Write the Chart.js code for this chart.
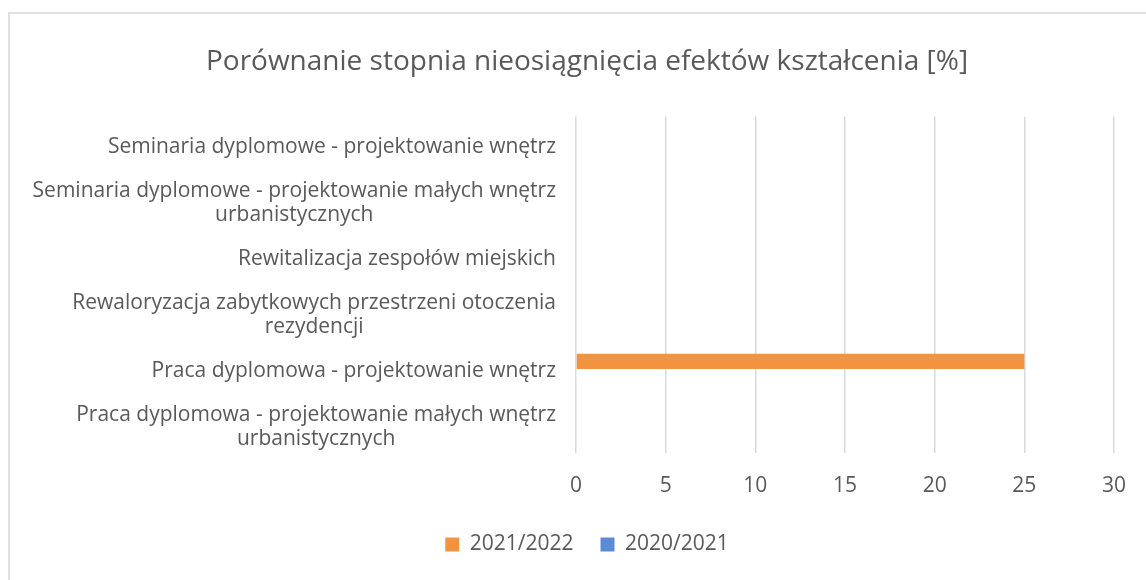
<!DOCTYPE html>
<html>
<head>
<meta charset="utf-8">
<script src="https://cdn.jsdelivr.net/npm/chart.js@4/dist/chart.umd.min.js"></script>
<style>
  html, body { margin: 0; padding: 0; background: #fff; overflow: hidden; }
  #frame { position: absolute; left: 8px; top: 12px; width: 2000px; height: 2000px; border: 2px solid #e0e0e0; }
  #wrap { position: absolute; left: 0; top: 0; width: 1146px; height: 580px; }
</style>
</head>
<body>
<div id="frame"></div>
<div id="wrap"><canvas id="chart"></canvas></div>
<script>
// kategorie (od góry), wielowierszowe etykiety jak w oryginale
const categories = [
  ['Seminaria dyplomowe - projektowanie wnętrz'],
  ['Seminaria dyplomowe - projektowanie małych wnętrz', 'urbanistycznych'],
  ['Rewitalizacja zespołów miejskich'],
  ['Rewaloryzacja zabytkowych przestrzeni otoczenia', 'rezydencji'],
  ['Praca dyplomowa - projektowanie wnętrz'],
  ['Praca dyplomowa - projektowanie małych wnętrz', 'urbanistycznych']
];
const values2122 = [0, 0, 0, 0, 25, 0];
const values2021 = [0, 0, 0, 0, 0, 0];
const xTicks = [0, 5, 10, 15, 20, 25, 30];

const TEXT = '#595959';
const FONT = '"Open Sans", sans-serif';

// etykiety osi Y: każdy blok wyrównany do prawej, wiersze wyśrodkowane
const wrappedLabels = {
  id: 'wrappedLabels',
  afterDraw(chart) {
    const y = chart.scales.y;
    const ctx = chart.ctx;
    ctx.save();
    ctx.font = '21px ' + FONT;
    ctx.fillStyle = TEXT;
    ctx.textAlign = 'center';
    ctx.textBaseline = 'middle';
    categories.forEach((lines, i) => {
      const yc = y.getPixelForTick(i) + 2;
      const w = Math.max(...lines.map(l => ctx.measureText(l).width));
      const xc = y.right - 20 - w / 2;
      lines.forEach((l, k) => ctx.fillText(l, xc, yc + (k - (lines.length - 1) / 2) * 24));
    });
    ctx.restore();
  }
};

new Chart(document.getElementById('chart'), {
  type: 'bar',
  data: {
    labels: categories,
    datasets: [
      { label: '2021/2022', data: values2122, backgroundColor: '#F2933F', borderWidth: 0 },
      { label: '2020/2021', data: values2021, backgroundColor: '#5B8AD6', borderWidth: 0 }
    ]
  },
  options: {
    indexAxis: 'y',
    responsive: true,
    maintainAspectRatio: false,
    animation: false,
    categoryPercentage: 0.54,
    barPercentage: 1,
    layout: { padding: { left: 28, right: 0, top: 0, bottom: 15 } },
    plugins: {
      title: {
        display: true,
        text: 'Porównanie stopnia nieosiągnięcia efektów kształcenia [%]',
        color: TEXT,
        font: { family: FONT, size: 28, weight: 'normal' },
        padding: { top: 45, bottom: 38 }
      },
      legend: {
        position: 'bottom',
        labels: {
          color: TEXT,
          font: { family: FONT, size: 21 },
          boxWidth: 14,
          boxHeight: 14,
          padding: 27
        }
      },
      tooltip: { enabled: false }
    },
    scales: {
      x: {
        min: 0,
        max: 30,
        afterBuildTicks(s) { s.ticks = xTicks.map(v => ({ value: v })); },
        afterFit(s) { s.height = 54; },
        grid: { color: '#d9d9d9', lineWidth: 1.5, drawTicks: false },
        border: { display: false },
        ticks: { color: TEXT, font: { family: FONT, size: 21 }, padding: 20 }
      },
      y: {
        afterFit(s) { s.width = 548; },
        grid: { display: false },
        border: { display: false },
        ticks: { display: false }
      },
      y2: {
        type: 'linear',
        position: 'right',
        afterFit(s) { s.width = 30; },
        grid: { display: false },
        border: { display: false },
        ticks: { display: false }
      }
    }
  },
  plugins: [wrappedLabels]
});
</script>
</body>
</html>
